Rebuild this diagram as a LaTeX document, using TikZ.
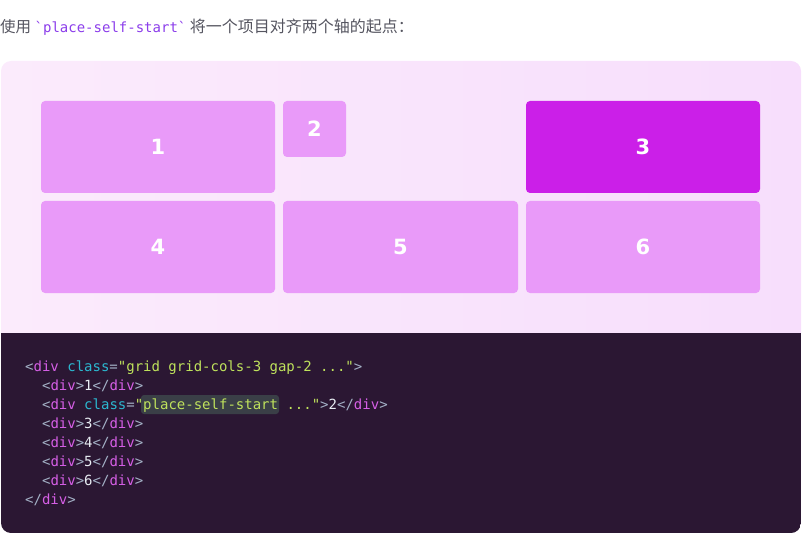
\documentclass[tikz,border=0pt]{standalone}
\usepackage{fontspec}
\setsansfont{DejaVu Sans}
\setmonofont{DejaVu Sans Mono}
\newfontfamily\cjk{Noto Sans CJK SC}
\definecolor{cellc}{HTML}{E99AF9}
\definecolor{celldark}{HTML}{CB1FE8}
\definecolor{panell}{HTML}{FBEBFC}
\definecolor{panelr}{HTML}{F7DEFC}
\definecolor{codebg}{HTML}{2B1733}
\definecolor{hlbg}{HTML}{3A3F47}
\definecolor{tagc}{HTML}{A3B1C6}
\definecolor{namec}{HTML}{D65FE6}
\definecolor{attrc}{HTML}{2BB8D0}
\definecolor{strc}{HTML}{BFE25C}
\definecolor{numc}{HTML}{E8EDF3}
\definecolor{titlec}{HTML}{555560}
\definecolor{inlinec}{HTML}{8B3DEA}
\newcommand\ctag[1]{\textcolor{tagc}{#1}}
\newcommand\cname[1]{\textcolor{namec}{#1}}
\newcommand\cattr[1]{\textcolor{attrc}{#1}}
\newcommand\cstr[1]{\textcolor{strc}{#1}}
\newcommand\cnum[1]{\textcolor{numc}{#1}}
\begin{document}
\begin{tikzpicture}[x=1pt,y=-1pt]
\tikzstyle{cell} = [rectangle, rounded corners=4pt, fill=cellc, minimum width=234pt, minimum height=92pt, text=white, font=\sffamily\bfseries\fontsize{21}{24}\selectfont, inner sep=0pt]
\tikzstyle{codeline} = [anchor=base west, inner sep=0pt, font=\ttfamily\fontsize{14}{16}\selectfont]
%
\useasboundingbox (0,0) rectangle (802,534);
%
\node (title) [anchor=base west, inner sep=0pt, text=titlec, font=\cjk\fontsize{15.5}{18}\selectfont] at (0,33)
  {使用 \textcolor{inlinec}{\ttfamily\fontsize{14}{16}\selectfont `place-self-start`} {\fontsize{16}{18}\selectfont 将一个项目对齐两个轴的起点：}};
%
\begin{scope}
\clip[rounded corners=10pt] (1,61) rectangle (801,533);
\shade[left color=panell, right color=panelr] (1,61) rectangle (801,333);
\fill[codebg] (1,333) rectangle (801,533);
\end{scope}
%
\node (one)   [cell]                                          at (158,147)   {1};
\node (two)   [cell, minimum width=63pt, minimum height=56pt] at (314.5,129) {2};
\node (three) [cell, fill=celldark]                           at (643,147)   {3};
\node (four)  [cell]                                          at (158,247)   {4};
\node (five)  [cell, minimum width=235pt]                     at (400.5,247) {5};
\node (six)   [cell]                                          at (643,247)   {6};
%
\fill[hlbg, rounded corners=3pt] (141,395) rectangle (279,414);
\node (l1) [codeline] at (25,371)   {\ctag{<}\cname{div} \cattr{class}\ctag{=}\cstr{"grid grid-cols-3 gap-2 ..."}\ctag{>}};
\node (l2) [codeline] at (41.9,390) {\ctag{<}\cname{div}\ctag{>}\cnum{1}\ctag{</}\cname{div}\ctag{>}};
\node (l3) [codeline] at (41.9,409) {\ctag{<}\cname{div} \cattr{class}\ctag{=}\cstr{"place-self-start ..."}\ctag{>}\cnum{2}\ctag{</}\cname{div}\ctag{>}};
\node (l4) [codeline] at (41.9,428) {\ctag{<}\cname{div}\ctag{>}\cnum{3}\ctag{</}\cname{div}\ctag{>}};
\node (l5) [codeline] at (41.9,447) {\ctag{<}\cname{div}\ctag{>}\cnum{4}\ctag{</}\cname{div}\ctag{>}};
\node (l6) [codeline] at (41.9,466) {\ctag{<}\cname{div}\ctag{>}\cnum{5}\ctag{</}\cname{div}\ctag{>}};
\node (l7) [codeline] at (41.9,485) {\ctag{<}\cname{div}\ctag{>}\cnum{6}\ctag{</}\cname{div}\ctag{>}};
\node (l8) [codeline] at (25,504)   {\ctag{</}\cname{div}\ctag{>}};
\end{tikzpicture}
\end{document}
